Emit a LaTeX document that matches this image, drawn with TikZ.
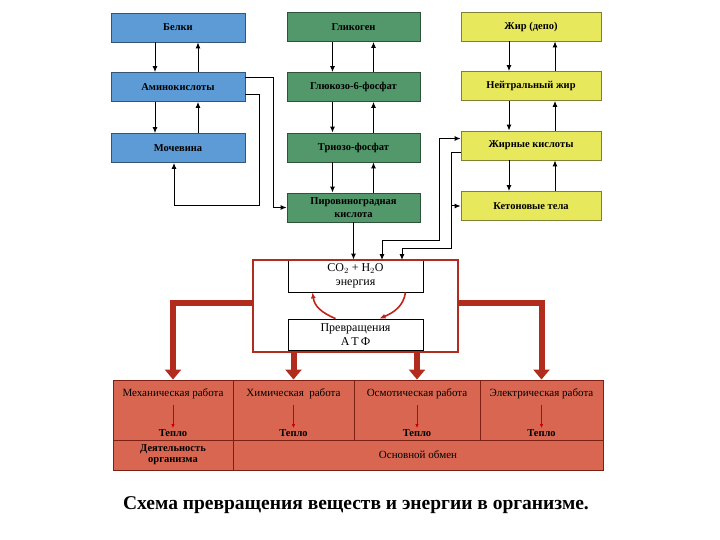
\documentclass[tikz,border=0pt]{standalone}
\usepackage{fontspec}
\setmainfont{Liberation Serif}
\usetikzlibrary{positioning,arrows.meta,calc}

\definecolor{sinij}{RGB}{92,155,214}
\definecolor{zelenyj}{RGB}{82,152,106}
\definecolor{zheltyj}{RGB}{232,232,92}
\definecolor{kirpich}{RGB}{216,102,80}
\definecolor{bordo}{RGB}{178,44,30}

\begin{document}
\begin{tikzpicture}[x=1pt,y=-1pt,>={Latex[length=6pt,width=5pt]},
    blok/.style={draw=#1!55!black, fill=#1, line width=0.8pt, minimum height=29pt, inner sep=1pt,
        font=\fontsize{10.5}{12.5}\selectfont\bfseries},
    svjaz/.style={->, line width=1pt},
    belyj/.style={draw, fill=white, line width=0.8pt, minimum width=135pt, inner sep=1pt,
        align=center, font=\fontsize{12}{13.5}\selectfont},
    tolstaja/.style={-{Triangle[length=10pt,width=16pt]}, line width=6pt, bordo},
    kletka/.style={draw=bordo!70!black, fill=kirpich, line width=0.9pt, minimum height=60pt},
    podpis/.style={inner sep=1pt, align=center, font=\fontsize{11}{11}\selectfont},
    teplo/.style={inner sep=1pt, font=\fontsize{10.5}{10.5}\selectfont\bfseries},
    malaja/.style={-{Latex[length=4pt,width=3.5pt]}, red!80!black, line width=0.9pt}]

    \useasboundingbox (0,0) rectangle (720,540);

    % Belki
    \node[blok=sinij, minimum width=134pt] (belki) at (178,27.5) {Белки};
    \node[blok=sinij, minimum width=134pt] (amino) at (178,87) {Аминокислоты};
    \node[blok=sinij, minimum width=134pt] (mochevina) at (178,148) {Мочевина};

    % Uglevody
    \node[blok=zelenyj, minimum width=133pt] (glikogen) at (353.5,27) {Гликоген};
    \node[blok=zelenyj, minimum width=133pt] (glukoza) at (353.5,87) {Глюкозо-6-фосфат};
    \node[blok=zelenyj, minimum width=133pt] (triozo) at (353.5,147.5) {Триозо-фосфат};
    \node[blok=zelenyj, minimum width=133pt, align=center] (piruvat) at (353.5,207.5)
        {Пировиноградная\\кислота};

    % Zhiry
    \node[blok=zheltyj, minimum width=140pt] (depo) at (531,26.5) {Жир (депо)};
    \node[blok=zheltyj, minimum width=140pt] (nejtr) at (531,86) {Нейтральный жир};
    \node[blok=zheltyj, minimum width=140pt] (zhirnye) at (531,145.5) {Жирные кислоты};
    \node[blok=zheltyj, minimum width=140pt] (keton) at (531,206) {Кетоновые тела};

    % vniz i vverh v kolonkah
    \draw[svjaz] ([xshift=-23pt]belki.south) -- ([xshift=-23pt]amino.north);
    \draw[svjaz] ([xshift=20pt]amino.north) -- ([xshift=20pt]belki.south);
    \draw[svjaz] ([xshift=-23pt]amino.south) -- ([xshift=-23pt]mochevina.north);
    \draw[svjaz] ([xshift=20pt]mochevina.north) -- ([xshift=20pt]amino.south);
    \draw[svjaz] ([xshift=-21pt]glikogen.south) -- ([xshift=-21pt]glukoza.north);
    \draw[svjaz] ([xshift=20pt]glukoza.north) -- ([xshift=20pt]glikogen.south);
    \draw[svjaz] ([xshift=-21pt]glukoza.south) -- ([xshift=-21pt]triozo.north);
    \draw[svjaz] ([xshift=20pt]triozo.north) -- ([xshift=20pt]glukoza.south);
    \draw[svjaz] ([xshift=-21pt]triozo.south) -- ([xshift=-21pt]piruvat.north);
    \draw[svjaz] ([xshift=20pt]piruvat.north) -- ([xshift=20pt]triozo.south);
    \draw[svjaz] ([xshift=-22pt]depo.south) -- ([xshift=-22pt]nejtr.north);
    \draw[svjaz] ([xshift=24pt]nejtr.north) -- ([xshift=24pt]depo.south);
    \draw[svjaz] ([xshift=-22pt]nejtr.south) -- ([xshift=-22pt]zhirnye.north);
    \draw[svjaz] ([xshift=24pt]zhirnye.north) -- ([xshift=24pt]nejtr.south);
    \draw[svjaz] ([xshift=-22pt]zhirnye.south) -- ([xshift=-22pt]keton.north);
    \draw[svjaz] ([xshift=24pt]keton.north) -- ([xshift=24pt]zhirnye.south);

    % Energeticheskij blok
    \node[belyj, minimum height=32pt] (co2) at (355.5,276)
        {CO$_2$ + H$_2$O\\энергия};
    \node[belyj, minimum height=31pt] (atf) at (355.5,334.5)
        {Превращения\\А\,Т\,Ф};
    \node[draw=bordo, line width=2pt, minimum width=205pt, minimum height=92pt] (reakt) at (355.5,306) {};

    % aminokisloty
    \draw[svjaz] ([yshift=9pt]amino.east) -- ++(28,0) |- (piruvat.west);
    \draw[svjaz] ([yshift=-8pt]amino.east) -- ++(14,0) -- ++(0,111) -| ([xshift=-4pt]mochevina.south);

    % v energeticheskij blok
    \draw[svjaz] (piruvat.south) -- (piruvat.south |- co2.north);
    \draw[svjaz, <->] ([yshift=7pt]zhirnye.west) -- ++(-21,0) |- (382,240) -- (382,260);
    \draw[svjaz] ([yshift=-7pt]zhirnye.west) -- ++(-9,0) coordinate (razvilka) |- (402,248) -- (402,260);
    \draw[svjaz] (razvilka |- keton.west) -- (keton.west);

    % krug ATF
    \draw[->, bordo!80!red, line width=1.6pt] ([xshift=50pt]co2.south)
        .. controls +(-2,14) and +(14,-6) .. ([xshift=24pt]atf.north);
    \draw[->, bordo!80!red, line width=1.6pt] ([xshift=-20pt]atf.north)
        .. controls +(-14,-6) and +(2,14) .. ([xshift=-43pt]co2.south);

    % Raboty
    \node[kletka, minimum width=120pt] (meh) at (173,410) {};
    \node[kletka, minimum width=121pt] (him) at (293.5,410) {};
    \node[kletka, minimum width=126pt] (osm) at (417,410) {};
    \node[kletka, minimum width=123pt] (el) at (541.5,410) {};
    \node[kletka, minimum width=120pt, minimum height=30pt] (dejat) at (173,455) {};
    \node[kletka, minimum width=370pt, minimum height=30pt] (osnov) at (418,455) {};

    \node[podpis, below=8pt of meh.north] (meh-t) {Механическая работа};
    \node[podpis, below=8pt of him.north] (him-t) {Химическая \ работа};
    \node[podpis, below=8pt of osm.north] (osm-t) {Осмотическая работа};
    \node[podpis, below=8pt of el.north] (el-t) {Электрическая работа};
    \node[teplo, above=3pt of meh.south] (meh-q) {Тепло};
    \node[teplo, above=3pt of him.south] (him-q) {Тепло};
    \node[teplo, above=3pt of osm.south] (osm-q) {Тепло};
    \node[teplo, above=3pt of el.south] (el-q) {Тепло};
    \node[podpis, font=\fontsize{10.5}{11}\selectfont\bfseries] at (dejat) {Деятельность\\организма};
    \node[podpis] at (osnov) {Основной обмен};

    \draw[malaja] ([yshift=-5pt]meh-t.south) -- (meh-q.north);
    \draw[malaja] ([yshift=-5pt]him-t.south) -- (him-q.north);
    \draw[malaja] ([yshift=-5pt]osm-t.south) -- (osm-q.north);
    \draw[malaja] ([yshift=-5pt]el-t.south) -- (el-q.north);

    % Tolstye strelki
    \draw[tolstaja] ([yshift=3pt]reakt.west) -| (meh.north);
    \draw[tolstaja] ([yshift=3pt]reakt.east) -| (el.north);
    \draw[tolstaja] (reakt.south -| him.north) -- (him.north);
    \draw[tolstaja] (reakt.south -| osm.north) -- (osm.north);

    % Podpis
    \node[font=\fontsize{19.5}{22}\selectfont\bfseries] (nazv) at (356,505)
        {Схема превращения веществ и энергии в организме.};
\end{tikzpicture}
\end{document}
